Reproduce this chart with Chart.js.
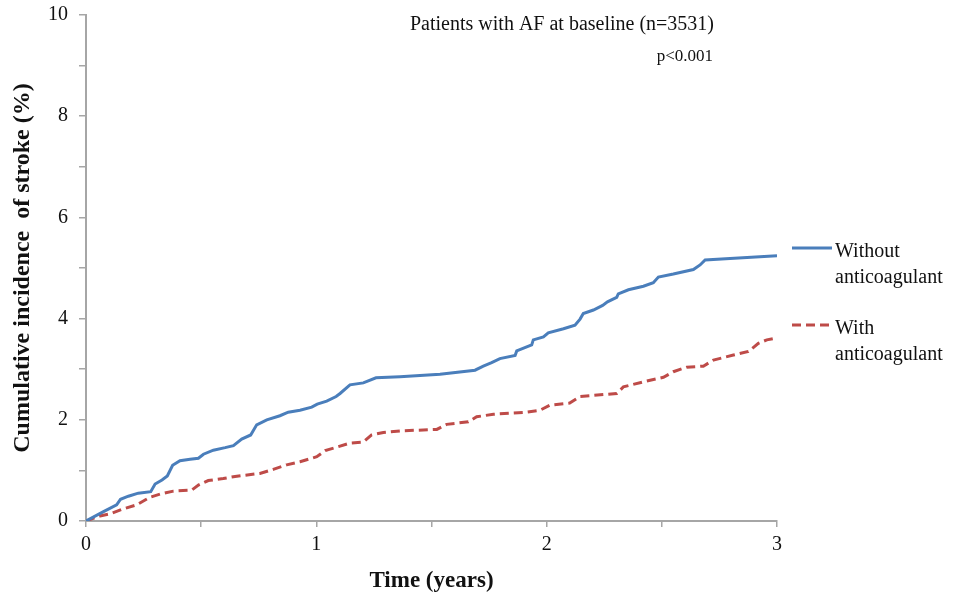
<!DOCTYPE html>
<html>
<head>
<meta charset="utf-8">
<script src="https://cdn.jsdelivr.net/npm/chart.js@4/dist/chart.umd.min.js"></script>
<style>
  html, body { margin: 0; padding: 0; background: #fff; }
  #wrap { width: 956px; height: 595px; position: relative; }
</style>
</head>
<body>
<div id="wrap"><canvas id="chart"></canvas></div>
<script>
// time in years, cumulative incidence in %
const withoutX = [0, 0.074, 0.133, 0.15, 0.184, 0.227, 0.281, 0.30, 0.33, 0.353, 0.376, 0.408, 0.452, 0.488, 0.51, 0.553, 0.604, 0.64, 0.676, 0.715, 0.741, 0.785, 0.842, 0.878, 0.929, 0.98, 1.004, 1.045, 1.086, 1.103, 1.146, 1.204, 1.259, 1.363, 1.537, 1.689, 1.725, 1.761, 1.797, 1.863, 1.870, 1.935, 1.942, 1.986, 2.007, 2.073, 2.123, 2.145, 2.159, 2.203, 2.243, 2.264, 2.304, 2.311, 2.355, 2.42, 2.463, 2.485, 2.55, 2.637, 2.666, 2.688, 2.796, 3.0];
const withoutY = [0, 0.18, 0.32, 0.43, 0.49, 0.55, 0.58, 0.73, 0.81, 0.89, 1.10, 1.19, 1.22, 1.24, 1.32, 1.40, 1.45, 1.49, 1.62, 1.70, 1.90, 2.0, 2.08, 2.15, 2.19, 2.25, 2.31, 2.37, 2.46, 2.52, 2.69, 2.73, 2.83, 2.85, 2.90, 2.98, 3.06, 3.13, 3.21, 3.27, 3.36, 3.48, 3.58, 3.64, 3.72, 3.80, 3.87, 3.99, 4.10, 4.17, 4.26, 4.33, 4.42, 4.49, 4.57, 4.64, 4.71, 4.82, 4.88, 4.97, 5.06, 5.16, 5.19, 5.24];

const withX = [0, 0.061, 0.104, 0.162, 0.22, 0.278, 0.321, 0.379, 0.459, 0.488, 0.531, 0.596, 0.647, 0.755, 0.813, 0.871, 0.929, 1.002, 1.038, 1.096, 1.146, 1.204, 1.24, 1.291, 1.363, 1.523, 1.566, 1.66, 1.696, 1.769, 1.913, 1.971, 2.015, 2.10, 2.145, 2.304, 2.333, 2.42, 2.507, 2.55, 2.608, 2.68, 2.724, 2.811, 2.876, 2.919, 2.956, 3.0];
const withY = [0, 0.10, 0.14, 0.24, 0.32, 0.47, 0.53, 0.59, 0.61, 0.71, 0.80, 0.84, 0.88, 0.94, 1.02, 1.11, 1.17, 1.27, 1.39, 1.47, 1.54, 1.56, 1.70, 1.75, 1.78, 1.81, 1.91, 1.96, 2.06, 2.11, 2.15, 2.19, 2.29, 2.33, 2.46, 2.52, 2.65, 2.75, 2.84, 2.95, 3.04, 3.06, 3.18, 3.28, 3.35, 3.51, 3.58, 3.62];

const seriesNames = [['Without', 'anticoagulant'], ['With', 'anticoagulant']];
const titleText = 'Patients with AF at baseline (n=3531)';
const pText = 'p<0.001';

const blue = '#4a7ebb';
const red = '#be4b48';
const axisGray = '#a6a6a6';
const serif = '"Liberation Serif", "Times New Roman", serif';

const toPoints = (xs, ys) => xs.map((x, i) => ({ x: x, y: ys[i] }));

// texts inside the plot and the two-line legend on the right
const annotations = {
  id: 'annotations',
  afterDraw(chart) {
    const ctx = chart.ctx;
    ctx.save();
    ctx.fillStyle = '#111';
    ctx.textBaseline = 'alphabetic';
    ctx.font = '20px ' + serif;
    ctx.textAlign = 'center';
    ctx.fillText(titleText, 562, 30);
    ctx.font = '17px ' + serif;
    ctx.textAlign = 'right';
    ctx.fillText(pText, 713, 61);

    const entries = [
      { color: blue, dash: [], y: 248 },
      { color: red, dash: [9, 5], y: 325 }
    ];
    ctx.textAlign = 'left';
    ctx.font = '20px ' + serif;
    entries.forEach((e, i) => {
      ctx.strokeStyle = e.color;
      ctx.lineWidth = 3;
      ctx.setLineDash(e.dash);
      ctx.beginPath();
      ctx.moveTo(792, e.y);
      ctx.lineTo(832, e.y);
      ctx.stroke();
      ctx.setLineDash([]);
      ctx.fillText(seriesNames[i][0], 835, e.y + 9);
      ctx.fillText(seriesNames[i][1], 835, e.y + 35);
    });
    ctx.restore();
  }
};

new Chart(document.getElementById('chart'), {
  type: 'line',
  data: {
    datasets: [
      {
        label: seriesNames[0].join(' '),
        data: toPoints(withoutX, withoutY),
        borderColor: blue,
        borderWidth: 3,
        pointRadius: 0,
        tension: 0,
        fill: false
      },
      {
        label: seriesNames[1].join(' '),
        data: toPoints(withX, withY),
        borderColor: red,
        borderWidth: 3,
        borderDash: [9, 5],
        pointRadius: 0,
        tension: 0,
        fill: false
      }
    ]
  },
  options: {
    responsive: true,
    maintainAspectRatio: false,
    animation: false,
    layout: { padding: { top: 15, right: 179, bottom: 0, left: 0 } },
    plugins: {
      legend: { display: false },
      tooltip: { enabled: false }
    },
    scales: {
      x: {
        type: 'linear',
        min: 0,
        max: 3,
        afterFit: (s) => { s.height = 74; },
        border: { color: axisGray, width: 2 },
        grid: { drawOnChartArea: false, drawTicks: true, tickLength: 6, color: axisGray, lineWidth: 1.5 },
        ticks: {
          stepSize: 0.5,
          padding: 6,
          color: '#111',
          font: { family: serif, size: 20 },
          maxRotation: 0,
          autoSkip: false,
          callback: (v) => (Number.isInteger(v) ? String(v) : '')
        },
        title: {
          display: true,
          text: 'Time (years)',
          color: '#111',
          font: { family: serif, size: 23, weight: 'bold' },
          padding: { top: 1, bottom: 0 }
        }
      },
      y: {
        min: 0,
        max: 10,
        afterFit: (s) => { s.width = 86; s.paddingTop = 0; s.paddingBottom = 0; },
        border: { color: axisGray, width: 2 },
        grid: { drawOnChartArea: false, drawTicks: true, tickLength: 7, color: axisGray, lineWidth: 1.5 },
        ticks: {
          stepSize: 1,
          padding: 11,
          color: '#111',
          font: { family: serif, size: 20 },
          autoSkip: false,
          callback: (v) => (v % 2 === 0 ? String(v) : '')
        },
        title: {
          display: true,
          text: 'Cumulative incidence  of stroke (%)',
          color: '#111',
          font: { family: serif, size: 24, weight: 'bold' },
          padding: { top: 8, bottom: 0 }
        }
      }
    }
  },
  plugins: [annotations]
});
</script>
</body>
</html>
